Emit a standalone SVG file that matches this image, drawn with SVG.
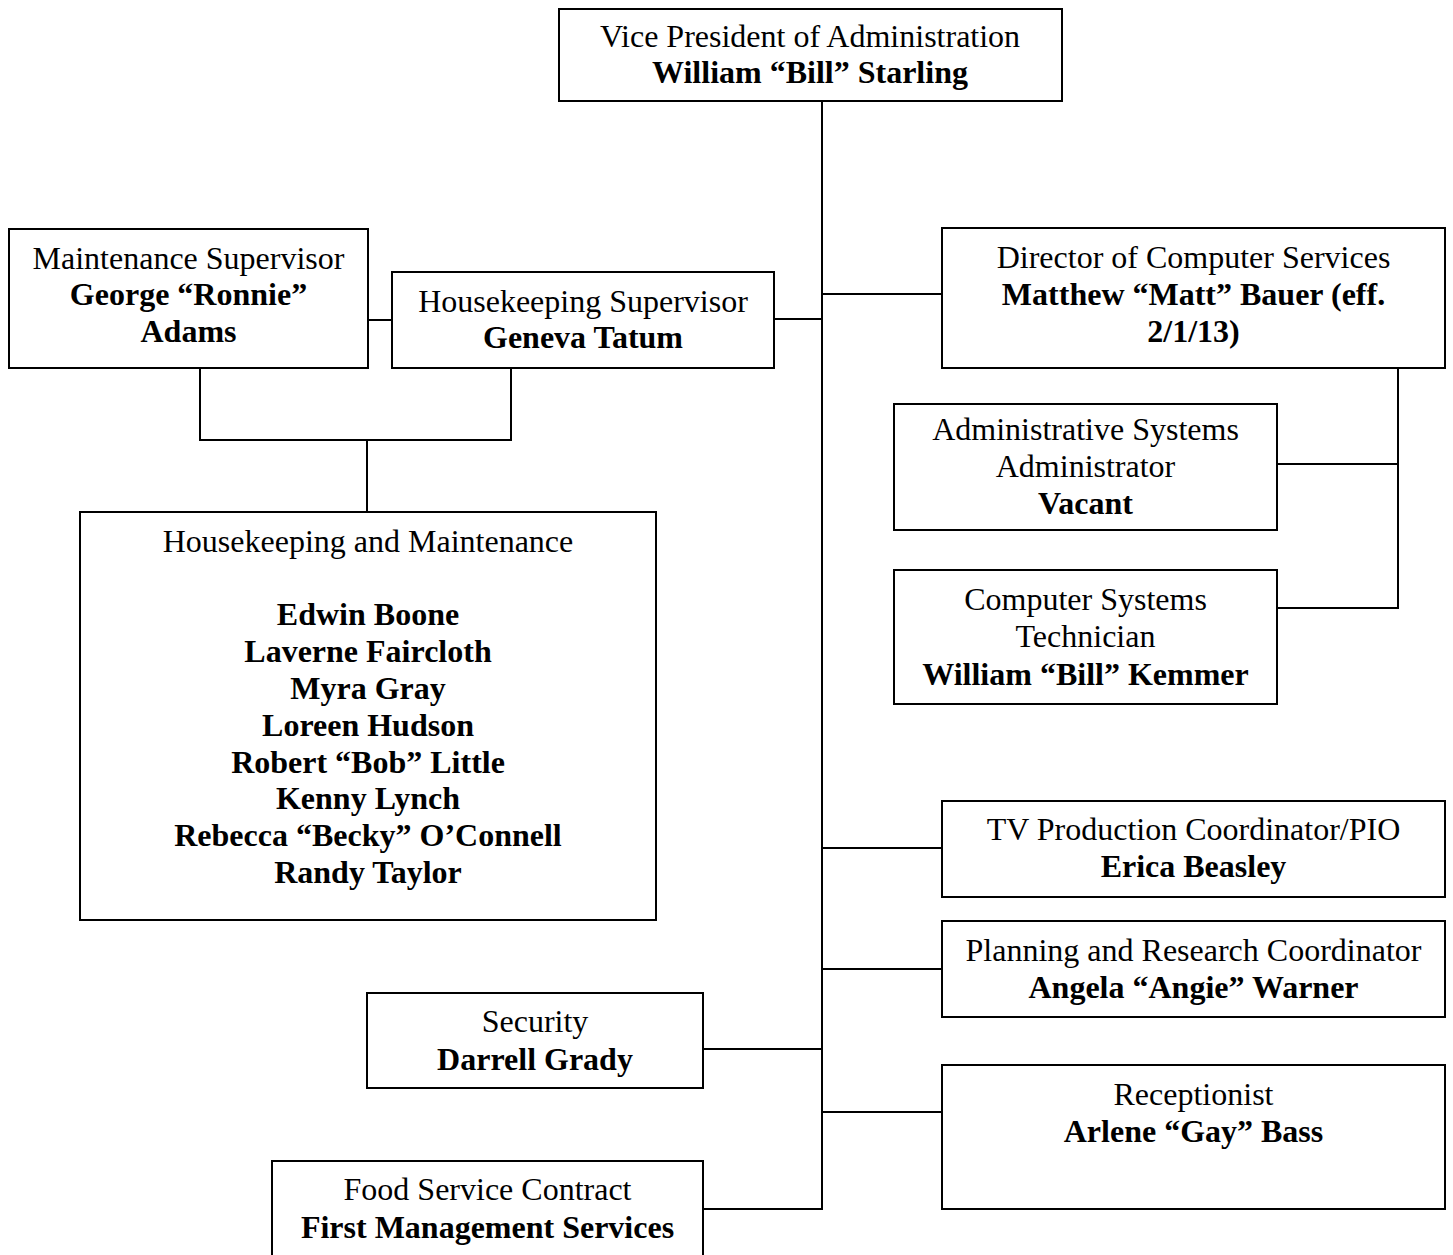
<svg xmlns="http://www.w3.org/2000/svg" width="1453" height="1255" viewBox="0 0 1453 1255">
  <style>
    .box { fill: #ffffff; stroke: #000000; stroke-width: 2; }
    .wire { fill: none; stroke: #000000; stroke-width: 2; }
    text { font-family: "Liberation Serif", "Times New Roman", serif; font-size: 32px; fill: #000000; text-anchor: middle; }
    .b { font-weight: bold; }
  </style>
  <rect x="0" y="0" width="1453" height="1255" fill="#ffffff"/>

  <!-- connectors -->
  <g id="connectors">
    <path class="wire" d="M822 101 V1209 H703"/>
    <path class="wire" d="M774 319 H822"/>
    <path class="wire" d="M368 320 H392"/>
    <path class="wire" d="M822 294 H942"/>
    <path class="wire" d="M822 848 H942"/>
    <path class="wire" d="M822 969 H942"/>
    <path class="wire" d="M703 1049 H822"/>
    <path class="wire" d="M822 1112 H942"/>
    <path class="wire" d="M1398 368 V608 H1277 M1277 464 H1398"/>
    <path class="wire" d="M200 368 V440 H511 V368 M367 440 V512"/>
  </g>

  <g id="vp">
    <rect class="box" x="559" y="9" width="503" height="92"/>
    <text x="810" y="47">Vice President of Administration</text>
    <text class="b" x="810" y="83">William “Bill” Starling</text>
  </g>

  <g id="maintenance-supervisor">
    <rect class="box" x="9" y="229" width="359" height="139"/>
    <text x="188.5" y="269">Maintenance Supervisor</text>
    <text class="b" x="188.5" y="305">George “Ronnie”</text>
    <text class="b" x="188.5" y="342">Adams</text>
  </g>

  <g id="housekeeping-supervisor">
    <rect class="box" x="392" y="272" width="382" height="96"/>
    <text x="583" y="312">Housekeeping Supervisor</text>
    <text class="b" x="583" y="348">Geneva Tatum</text>
  </g>

  <g id="director-computer-services">
    <rect class="box" x="942" y="228" width="503" height="140"/>
    <text x="1193.5" y="268">Director of Computer Services</text>
    <text class="b" x="1193.5" y="305">Matthew “Matt” Bauer (eff.</text>
    <text class="b" x="1193.5" y="342">2/1/13)</text>
  </g>

  <g id="admin-systems-administrator">
    <rect class="box" x="894" y="404" width="383" height="126"/>
    <text x="1085.5" y="440">Administrative Systems</text>
    <text x="1085.5" y="477">Administrator</text>
    <text class="b" x="1085.5" y="514">Vacant</text>
  </g>

  <g id="computer-systems-technician">
    <rect class="box" x="894" y="570" width="383" height="134"/>
    <text x="1085.5" y="610">Computer Systems</text>
    <text x="1085.5" y="647">Technician</text>
    <text class="b" x="1085.5" y="685">William “Bill” Kemmer</text>
  </g>

  <g id="housekeeping-maintenance">
    <rect class="box" x="80" y="512" width="576" height="408"/>
    <text x="368" y="552">Housekeeping and Maintenance</text>
    <text class="b" x="368" y="625">Edwin Boone</text>
    <text class="b" x="368" y="662">Laverne Faircloth</text>
    <text class="b" x="368" y="699">Myra Gray</text>
    <text class="b" x="368" y="736">Loreen Hudson</text>
    <text class="b" x="368" y="773">Robert “Bob” Little</text>
    <text class="b" x="368" y="809">Kenny Lynch</text>
    <text class="b" x="368" y="846">Rebecca “Becky” O’Connell</text>
    <text class="b" x="368" y="883">Randy Taylor</text>
  </g>

  <g id="tv-production">
    <rect class="box" x="942" y="801" width="503" height="96"/>
    <text x="1193.5" y="840">TV Production Coordinator/PIO</text>
    <text class="b" x="1193.5" y="877">Erica Beasley</text>
  </g>

  <g id="planning-research">
    <rect class="box" x="942" y="921" width="503" height="96"/>
    <text x="1193.5" y="961">Planning and Research Coordinator</text>
    <text class="b" x="1193.5" y="998">Angela “Angie” Warner</text>
  </g>

  <g id="security">
    <rect class="box" x="367" y="993" width="336" height="95"/>
    <text x="535" y="1032">Security</text>
    <text class="b" x="535" y="1070">Darrell Grady</text>
  </g>

  <g id="receptionist">
    <rect class="box" x="942" y="1065" width="503" height="144"/>
    <text x="1193.5" y="1105">Receptionist</text>
    <text class="b" x="1193.5" y="1142">Arlene “Gay” Bass</text>
  </g>

  <g id="food-service">
    <rect class="box" x="272" y="1161" width="431" height="110"/>
    <text x="487.5" y="1200">Food Service Contract</text>
    <text class="b" x="487.5" y="1238">First Management Services</text>
  </g>
</svg>
